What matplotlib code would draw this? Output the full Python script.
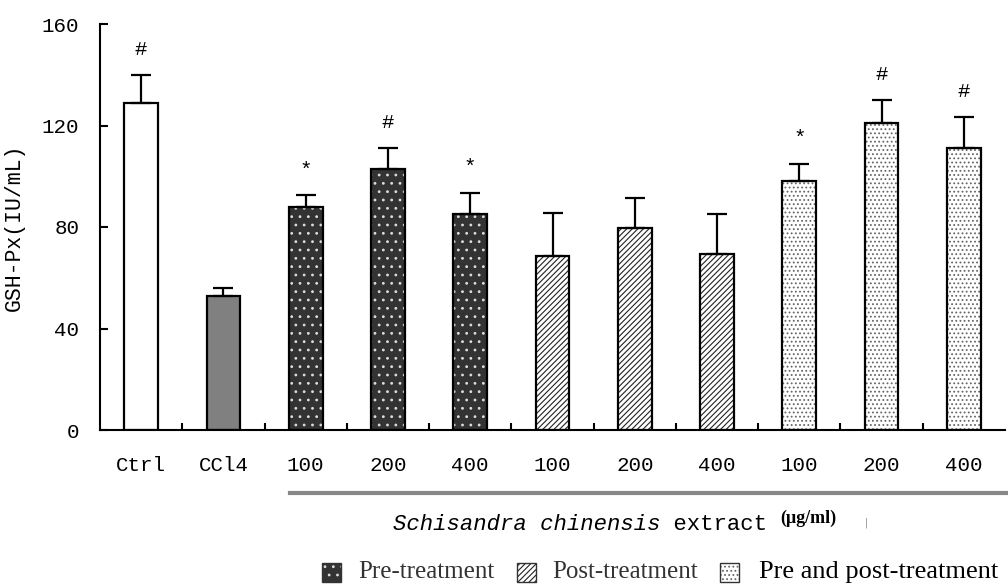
import matplotlib
matplotlib.use("Agg")
import matplotlib.pyplot as plt
from matplotlib.patches import Rectangle
from matplotlib.lines import Line2D
import numpy as np

# data
labels = ["Ctrl", "CCl4", "100", "200", "400", "100", "200", "400", "100", "200", "400"]
means = [129, 53, 88, 103, 85, 68.5, 79.5, 69.5, 98, 121, 111]
errs = [11, 3, 4.5, 8, 8.5, 17, 12, 15.5, 7, 9, 12.5]
marks = ["#", "", "*", "#", "*", "", "", "", "*", "#", "#"]
groups = ["ctrl", "ccl4", "pre", "pre", "pre", "post", "post", "post", "both", "both", "both"]

mono = "Liberation Mono"
serif = "Liberation Serif"
plt.rcParams["hatch.linewidth"] = 0.8

# face, hatch colour, hatch
styles = {
    "ctrl": ("white", "white", None),
    "ccl4": ("#808080", "#808080", None),
    "pre": ("#333333", "#dddddd", ".."),
    "post": ("white", "#222222", "//////"),
    "both": ("white", "#666666", "...."),
}

W, H = 1008, 586
fig = plt.figure(figsize=(W / 100, H / 100), dpi=100)
ax = fig.add_axes([100 / W, 156 / H, 905 / W, 406 / H])

x = np.arange(len(labels))
w = 0.41
for i in range(len(labels)):
    fc, hc, hatch = styles[groups[i]]
    ax.bar(x[i], means[i], w, color=fc, edgecolor=hc, hatch=hatch, linewidth=0, zorder=2)
    ax.bar(x[i], means[i], w, facecolor="none", edgecolor="black", linewidth=1.6, zorder=3)

ax.errorbar(x, means, yerr=[np.zeros(len(errs)), errs], fmt="none", ecolor="black",
            elinewidth=1.6, capsize=7, capthick=1.6, zorder=4)

for i, m in enumerate(marks):
    if m:
        ax.text(x[i], means[i] + errs[i] + 10, m, ha="center", va="center",
                family=mono, fontsize=15)

ax.set_xlim(-0.5, len(labels) - 0.5)
ax.set_ylim(0, 160)
ax.set_yticks([0, 40, 80, 120, 160])
ax.set_xticks(x)
ax.set_xticklabels(labels, family=mono, fontsize=15)
ax.set_xticks(np.arange(0.5, len(labels) - 1, 1), minor=True)
ax.tick_params(axis="x", which="major", length=0, pad=19)
ax.tick_params(axis="x", which="minor", direction="in", length=5, width=1.5)
ax.tick_params(axis="y", direction="in", length=6, width=1.5, pad=15)
for t in ax.get_yticklabels():
    t.set_family(mono)
    t.set_fontsize(15)
ax.set_ylabel("GSH-Px(IU/mL)", family=mono, fontsize=15.5)
ax.yaxis.set_label_coords(-75 / 905, 0.5)
for s in ["top", "right"]:
    ax.spines[s].set_visible(False)
for s in ["left", "bottom"]:
    ax.spines[s].set_linewidth(1.5)

# group line and caption under the axis
fig.add_artist(Line2D([290 / W, 1.0], [1 - 493 / H, 1 - 493 / H],
                      color="#888888", linewidth=3))
t1 = fig.text(393 / W, 1 - 524 / H, "Schisandra chinensis", family=mono,
              style="italic", fontsize=16, va="center")
ax.annotate(" extract", xy=(1, 0.5), xycoords=t1, va="center", ha="left",
            family=mono, fontsize=16, annotation_clip=False)
fig.text(780 / W, 1 - 518 / H, "(\u03bcg/ml)", family=serif, fontweight="bold",
         fontsize=13, va="center")
fig.text(866 / W, 1 - 523 / H, "|", color="#888888", fontsize=7, ha="center", va="center")

# legend row
leg_y = 1 - 572 / H
items = [(322, 358, "pre", "Pre-treatment", 18, "#333333"),
         (517, 552, "post", "Post-treatment", 18, "#333333"),
         (720, 759, "both", "Pre and post-treatment", 19, "black")]
box = 19
for px, tx, g, txt, fs, tc in items:
    fc, hc, hatch = styles[g]
    xy = (px / W, leg_y - box / 2 / H)
    fig.add_artist(Rectangle(xy, box / W, box / H, transform=fig.transFigure,
                             facecolor=fc, edgecolor=hc, hatch=hatch, linewidth=0))
    fig.add_artist(Rectangle(xy, box / W, box / H, transform=fig.transFigure,
                             facecolor="none", edgecolor="#333333", linewidth=1))
    fig.text(tx / W, leg_y, txt, family=serif, fontsize=fs, va="center", color=tc)

fig.savefig("out.png", dpi=100)
